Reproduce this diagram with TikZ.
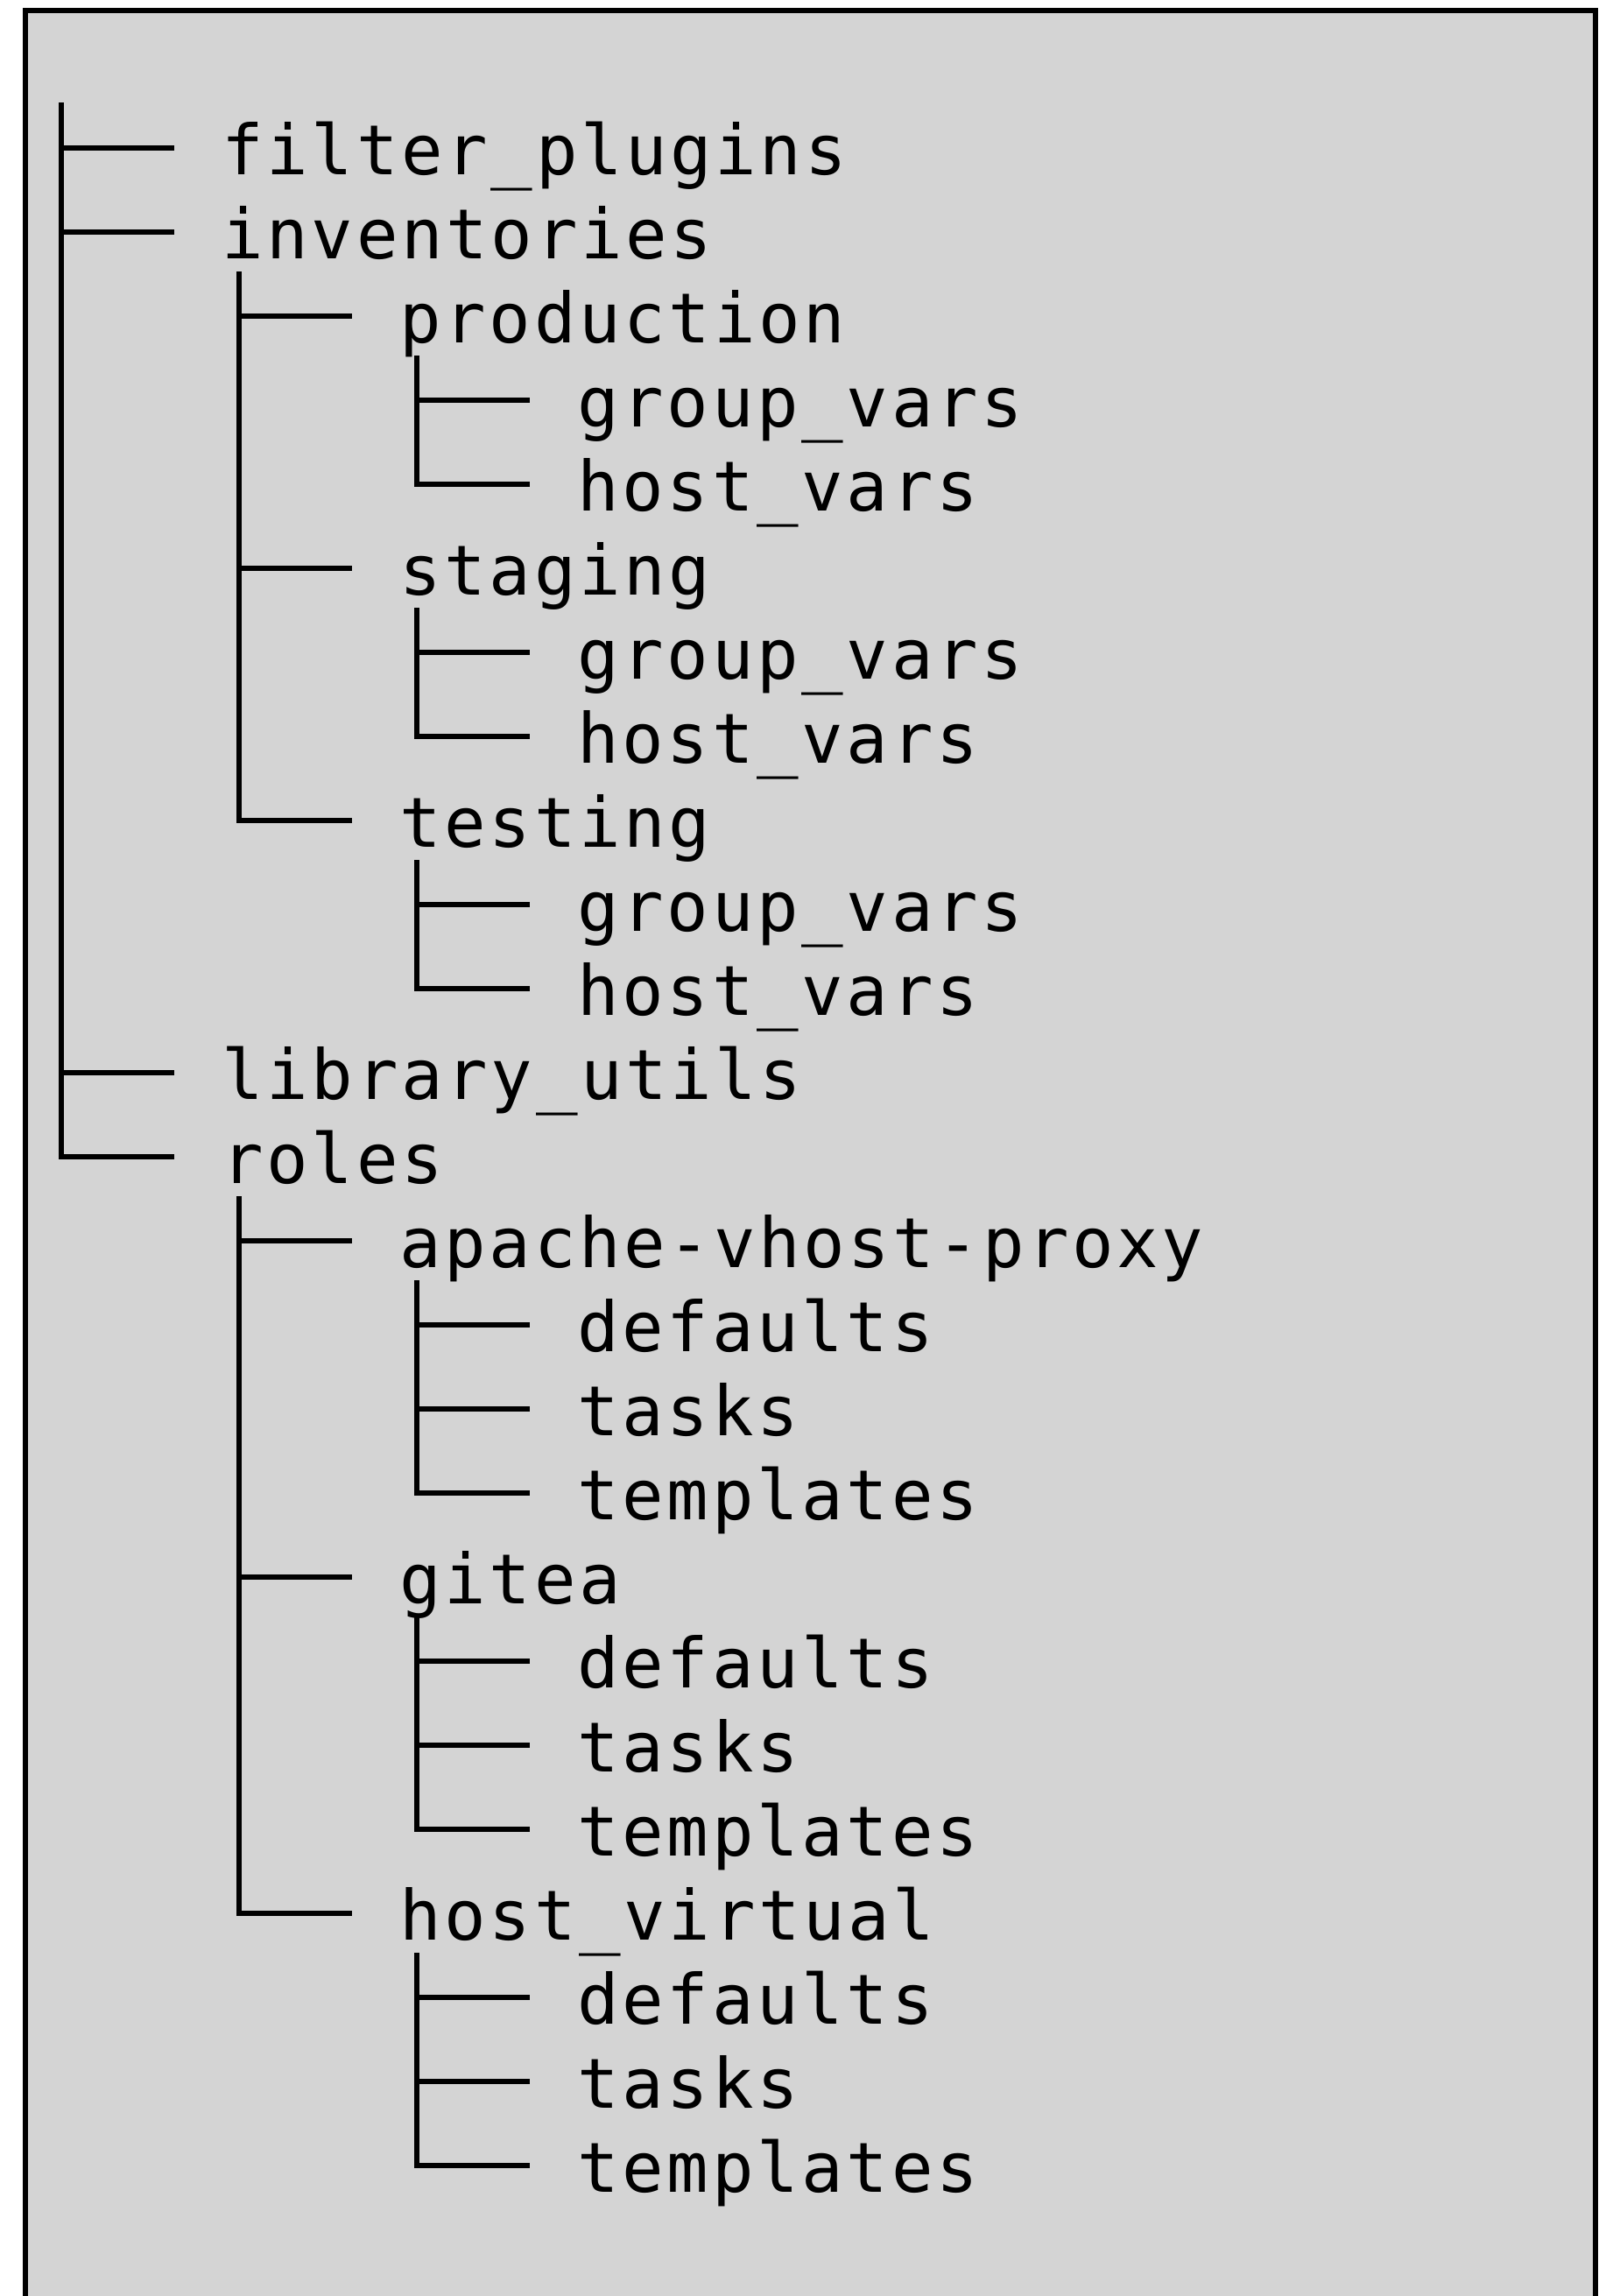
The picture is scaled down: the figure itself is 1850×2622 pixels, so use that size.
\documentclass[tikz,border=0pt]{standalone}
\usepackage{fontspec}
\usepackage{tikz}
\usetikzlibrary{calc}
\newfontfamily\treefont[LetterSpace=4.6]{DejaVu Sans Mono}
\definecolor{panel}{RGB}{212,212,212}
\tikzset{
  entry/.style={anchor=base west,inner sep=0pt,font={\treefont\fontsize{23.7pt}{28pt}\selectfont}},
  trunk/.style={line width=1.8pt,line cap=rect},
  twig/.style={line width=1.9pt}
}

\begin{document}
\begin{tikzpicture}[x=0.3pt,y=-0.3pt]
  \useasboundingbox (0,0) rectangle (1850,2622);
  \clip (0,0) rectangle (1850,2622);

  %grey panel
  \draw[line width=1.9pt,fill=panel] (29,12) rectangle (1822,2700);

  %top level
  \coordinate (top) at (70,120);
  \node[entry] (fp)    at (253,199)  {filter\_plugins};
  \node[entry] (inv)   at (253,295)  {inventories};
  \node[entry] (lib)   at (253,1255) {library\_utils};
  \node[entry] (roles) at (253,1351) {roles};

  %inventories
  \node[entry] (prod)   at (456,391)  {production};
  \node[entry] (prodgv) at (659,487)  {group\_vars};
  \node[entry] (prodhv) at (659,583)  {host\_vars};
  \node[entry] (stag)   at (456,679)  {staging};
  \node[entry] (staggv) at (659,775)  {group\_vars};
  \node[entry] (staghv) at (659,871)  {host\_vars};
  \node[entry] (test)   at (456,967)  {testing};
  \node[entry] (testgv) at (659,1063) {group\_vars};
  \node[entry] (testhv) at (659,1159) {host\_vars};

  %roles
  \node[entry] (apache) at (456,1447) {apache-vhost-proxy};
  \node[entry] (apdef)  at (659,1543) {defaults};
  \node[entry] (aptask) at (659,1639) {tasks};
  \node[entry] (aptmpl) at (659,1735) {templates};
  \node[entry] (gitea)  at (456,1831) {gitea};
  \node[entry] (gidef)  at (659,1927) {defaults};
  \node[entry] (gitask) at (659,2023) {tasks};
  \node[entry] (gitmpl) at (659,2119) {templates};
  \node[entry] (hv)     at (456,2215) {host\_virtual};
  \node[entry] (hvdef)  at (659,2311) {defaults};
  \node[entry] (hvtask) at (659,2407) {tasks};
  \node[entry] (hvtmpl) at (659,2503) {templates};

  %vertical lines
  \draw[trunk] (top) -- ($(roles.base west)+(-183,-30)$);
  \foreach \p/\c in {inv/test,prod/prodhv,stag/staghv,test/testhv,
                     roles/hv,apache/aptmpl,gitea/gitmpl,hv/hvtmpl}
    \draw[trunk] ($(\p.base west)+(20,18)$) -- ($(\c.base west)+(-183,-30)$);

  %branches
  \foreach \c in {fp,inv,lib,roles,prod,prodgv,prodhv,stag,staggv,staghv,
                  test,testgv,testhv,apache,apdef,aptask,aptmpl,
                  gitea,gidef,gitask,gitmpl,hv,hvdef,hvtask,hvtmpl}
    \draw[twig] ($(\c.base west)+(-183,-30)$) -- ($(\c.base west)+(-54,-30)$);
\end{tikzpicture}
\end{document}
